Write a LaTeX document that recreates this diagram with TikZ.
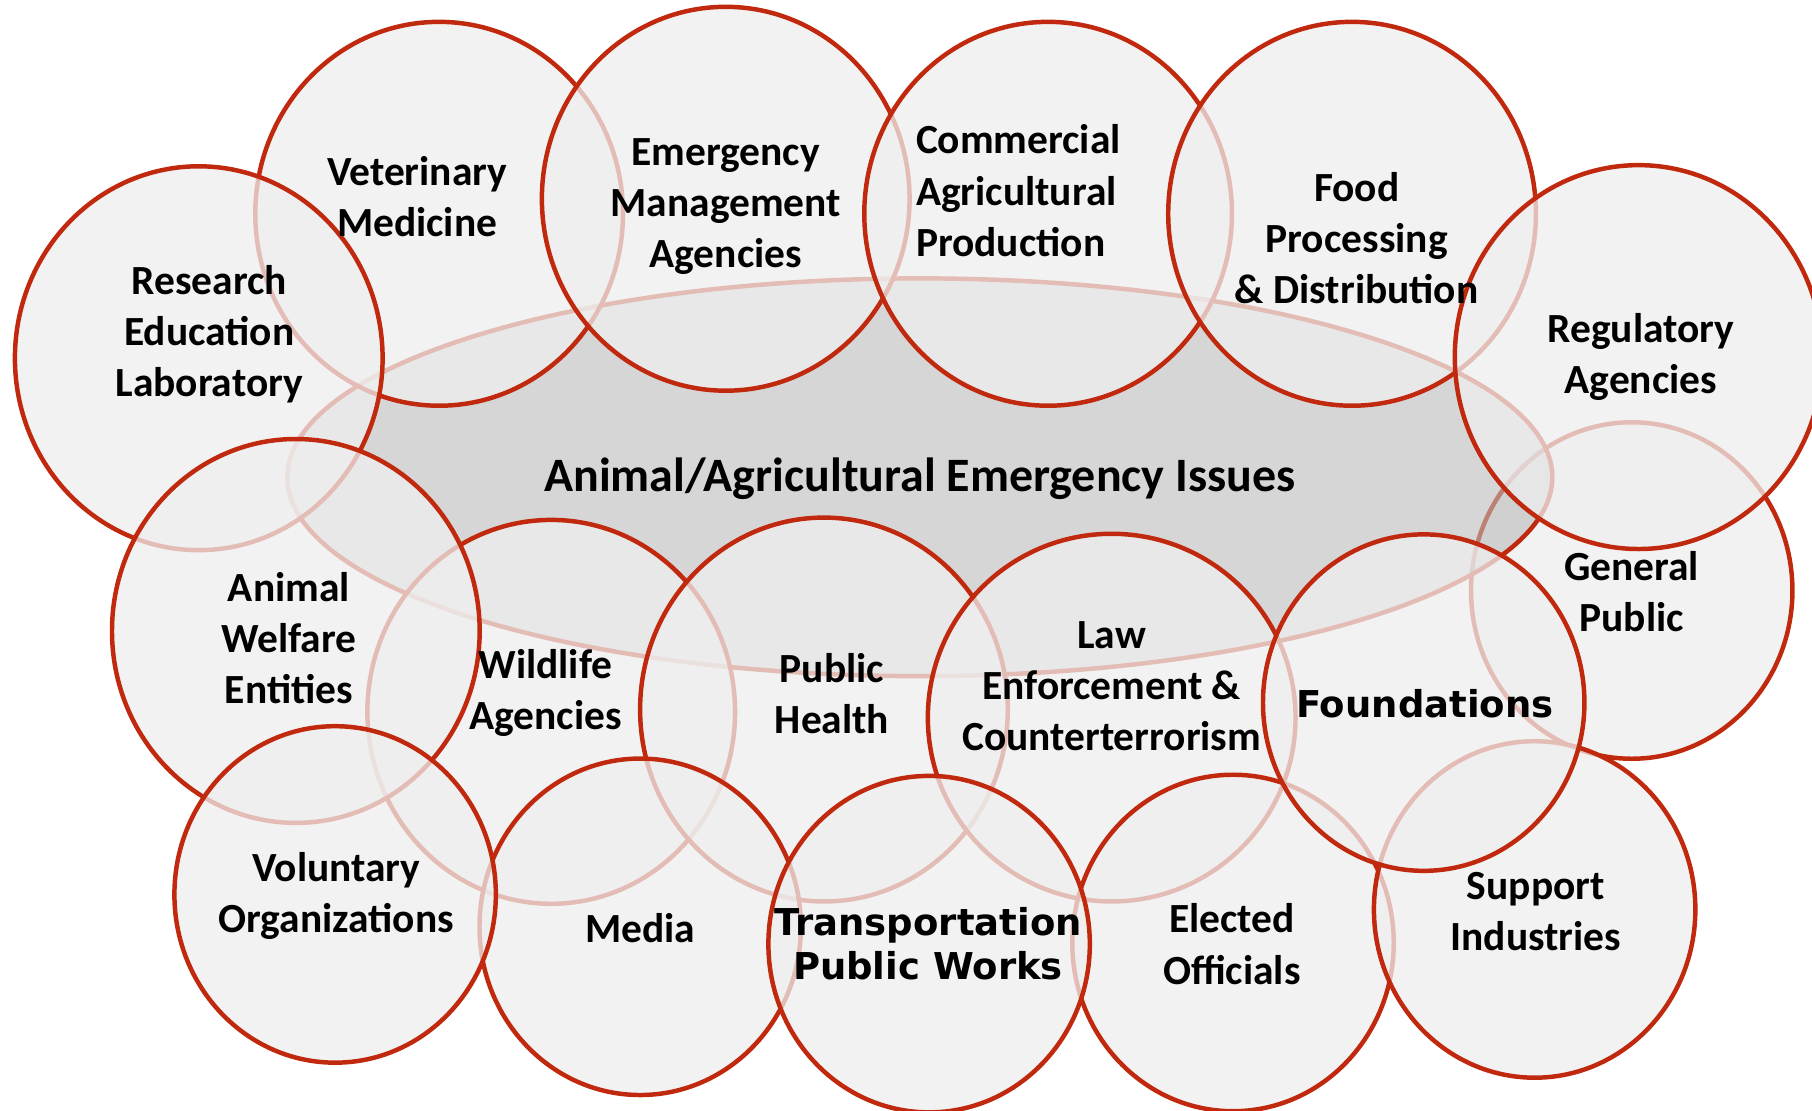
\documentclass[tikz,border=0pt]{standalone}
\usepackage{fontspec}
\setmainfont{Carlito}
\newfontfamily\verdfont{DejaVu Sans}
\usetikzlibrary{shapes.geometric, positioning}

\definecolor{rim}{RGB}{192,41,14}
\definecolor{disc}{RGB}{238,238,238}
\definecolor{core}{RGB}{186,186,186}

\begin{document}
\begin{tikzpicture}[
    x=0.01cm, y=-0.01cm,
    zone/.style={ellipse, draw=rim, line width=1.1pt, fill=disc, fill opacity=0.75, inner sep=0pt, minimum width=3.18cm, minimum height=3.32cm},
    small/.style={zone, minimum width=2.78cm, minimum height=2.91cm},
    hub/.style={ellipse, draw=rim, line width=1.1pt, fill=core, fill opacity=0.6, inner sep=0pt, minimum width=10.94cm, minimum height=3.44cm},
    lbl/.style={align=center, inner sep=0pt, font=\bfseries\fontsize{10.2}{12.6}\selectfont},
    wide/.style={align=center, inner sep=0pt, font=\verdfont\bfseries\fontsize{9.1}{10.8}\selectfont}
]
    \useasboundingbox (0,0) rectangle (1568,961);

    % Circles, back to front
    \node [small] (public) at (1412,511) {};
    \node [hub] (issues) at (796,413) {};
    \node [zone] (vet) at (380,185) {};
    \node [zone] (emerg) at (628,172) {};
    \node [zone] (comm) at (907,185) {};
    \node [zone] (food) at (1170,185) {};
    \node [zone] (reg) at (1418,309) {};
    \node [zone] (research) at (172,310) {};
    \node [zone] (wild) at (477,616) {};
    \node [zone] (welfare) at (256,546) {};
    \node [zone] (health) at (713,614) {};
    \node [zone, minimum height=3.18cm] (law) at (962,621) {};
    \node [small] (elected) at (1067,816) {};
    \node [small] (support) at (1328,787) {};
    \node [small] (found) at (1232,608) {};
    \node [small] (media) at (554,802) {};
    \node [small] (volunt) at (290,774) {};
    \node [small] (transp) at (804,817) {};

    % Labels
    \node [lbl, font=\bfseries\fontsize{11.8}{14}\selectfont] (issues-t) at (796,414) {Animal/Agricultural Emergency Issues};
    \node [lbl] (vet-t) at (361,170) {Veterinary\\Medicine};
    \node [lbl] (emerg-t) at (628,179) {Emergency\\Management\\Agencies};
    \node [lbl, align=left, anchor=west] (comm-t) at (792,165) {Commercial\\Agricultural\\Production};
    \node [lbl] (food-t) at (1174,206) {Food\\Processing\\\& Distribution};
    \node [lbl] (reg-t) at (1420,309) {Regulatory\\Agencies};
    \node [lbl] (research-t) at (181,289) {Research\\Education\\Laboratory};
    \node [lbl] (public-t) at (1412,512) {General\\Public};
    \node [lbl] (welfare-t) at (250,552) {Animal\\Welfare\\Entities};
    \node [lbl] (wild-t) at (472,600) {Wildlife\\Agencies};
    \node [lbl] (health-t) at (720,600) {Public\\Health};
    \node [lbl] (law-t) at (962,594) {Law\\Enforcement \&\\Counterterrorism};
    \node [wide] (found-t) at (1233,609) {Foundations};
    \node [lbl] (volunt-t) at (291,775) {Voluntary\\Organizations};
    \node [lbl] (media-t) at (554,803) {Media};
    \node [wide] (transp-t) at (803,817) {Transportation\\Public Works};
    \node [lbl] (elected-t) at (1066,817) {Elected\\Officials};
    \node [lbl] (support-t) at (1329,789) {Support\\Industries};

\end{tikzpicture}
\end{document}
